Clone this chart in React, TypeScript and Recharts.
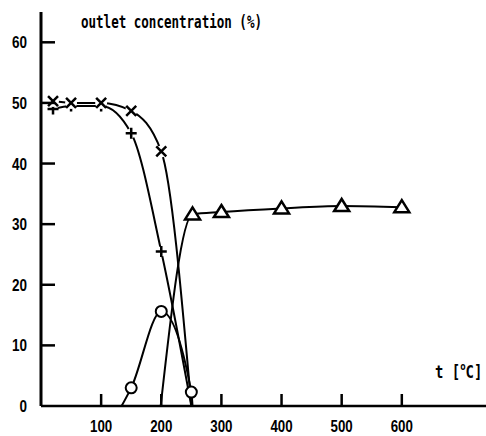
import React from 'react';
import { LineChart, Line, XAxis, YAxis } from 'recharts';

// temperature (°C) and outlet concentration (%) per species
const crossT = [20, 50, 100, 150, 200, 250];
const crossC = [50.3, 50, 50, 48.7, 42, 0];
const plusT = [20, 50, 100, 150, 200, 250];
const plusC = [49, 49.5, 49.5, 45, 25.5, 0];
const circleT = [134, 150, 200, 250, 252];
const circleC = [0, 3, 15.6, 2.3, 0];
const triangleT = [199, 252, 300, 400, 500, 600];
const triangleC = [0, 31.6, 32, 32.6, 33, 32.8];

const xTicks = [100, 200, 300, 400, 500, 600];
const yTicks = [0, 10, 20, 30, 40, 50, 60];

const toRows = (ts: number[], cs: number[]) => ts.map((t, i) => ({ t, c: cs[i] }));

const crossData = toRows(crossT, crossC);
const plusData = toRows(plusT, plusC);
const circleData = toRows(circleT, circleC);
const triangleData = toRows(triangleT, triangleC);

const INK = '#000';
const tickFont = '"Liberation Sans", Arial, sans-serif';
const labelFont = '"DejaVu Sans Mono", monospace';

// anchor points at 0 carry no marker
const CrossDot = (p: any) => {
  if (p.payload.c === 0) return null;
  const { cx, cy } = p;
  const s = 5;
  return (
    <g key={`x-${p.index}`}>
      <circle cx={cx} cy={cy} r={6} fill="#fff" />
      <path d={`M${cx - s},${cy - s}L${cx + s},${cy + s}M${cx + s},${cy - s}L${cx - s},${cy + s}`} stroke={INK} strokeWidth={2.5} />
    </g>
  );
};

const PlusDot = (p: any) => {
  if (p.payload.c === 0) return null;
  const { cx, cy } = p;
  const s = 5.5;
  return (
    <g key={`p-${p.index}`}>
      <circle cx={cx} cy={cy} r={5} fill="#fff" />
      <path d={`M${cx - s},${cy}L${cx + s},${cy}M${cx},${cy - s}L${cx},${cy + s}`} stroke={INK} strokeWidth={2.5} />
    </g>
  );
};

const CircleDot = (p: any) => {
  if (p.payload.c === 0) return null;
  return <circle key={`o-${p.index}`} cx={p.cx} cy={p.cy} r={5.5} fill="#fff" stroke={INK} strokeWidth={2} />;
};

const TriangleDot = (p: any) => {
  if (p.payload.c === 0) return null;
  const { cx, cy } = p;
  return (
    <path
      key={`t-${p.index}`}
      d={`M${cx},${cy - 7}L${cx + 7.5},${cy + 5}L${cx - 7.5},${cy + 5}Z`}
      fill="#fff"
      stroke={INK}
      strokeWidth={2.5}
      strokeLinejoin="miter"
    />
  );
};

const YTick = (props: any) => {
  const { x, y, payload } = props;
  const label = String(payload.value);
  return (
    <g>
      {payload.value > 0 && <line x1={x + 14} x2={x + 28} y1={y} y2={y} stroke={INK} strokeWidth={2.5} />}
      <text
        x={x}
        y={y + 6}
        textAnchor="end"
        fontFamily={tickFont}
        fontWeight={700}
        fontSize={17}
        textLength={label.length * 7.5}
        lengthAdjust="spacingAndGlyphs"
        fill={INK}
      >
        {label}
      </text>
    </g>
  );
};

const XTick = (props: any) => {
  const { x, y, payload } = props;
  const label = String(payload.value);
  return (
    <g>
      <line x1={x} x2={x} y1={y} y2={y - 12} stroke={INK} strokeWidth={2.5} />
      <text
        x={x}
        y={y + 26}
        textAnchor="middle"
        fontFamily={tickFont}
        fontWeight={700}
        fontSize={16}
        textLength={label.length * 7.4}
        lengthAdjust="spacingAndGlyphs"
        fill={INK}
      >
        {label}
      </text>
    </g>
  );
};

export default function App() {
  return (
    <div style={{ position: 'absolute', left: 0, top: 0, width: 486, height: 436, background: '#fff' }}>
      <LineChart width={486} height={436} margin={{ top: 12, right: 0, bottom: 0, left: 0 }}>
        <XAxis
          dataKey="t"
          type="number"
          domain={[0, 740]}
          ticks={xTicks}
          allowDataOverflow
          axisLine={{ stroke: INK, strokeWidth: 2.5 }}
          tickLine={false}
          tickSize={0}
          tickMargin={0}
          tick={<XTick />}
          height={30}
        />
        <YAxis
          dataKey="c"
          type="number"
          domain={[0, 65]}
          ticks={yTicks}
          allowDataOverflow
          axisLine={{ stroke: INK, strokeWidth: 3 }}
          tickLine={false}
          tickSize={0}
          tickMargin={14}
          tick={<YTick />}
          width={41}
        />
        <Line data={circleData} dataKey="c" type="monotone" stroke={INK} strokeWidth={2} dot={<CircleDot />} isAnimationActive={false} />
        <Line data={triangleData} dataKey="c" type="monotone" stroke={INK} strokeWidth={2} dot={<TriangleDot />} isAnimationActive={false} />
        <Line data={plusData} dataKey="c" type="monotone" stroke={INK} strokeWidth={2} dot={<PlusDot />} isAnimationActive={false} />
        <Line data={crossData} dataKey="c" type="monotone" stroke={INK} strokeWidth={2} dot={<CrossDot />} isAnimationActive={false} />
      </LineChart>
      <svg width={486} height={436} style={{ position: 'absolute', left: 0, top: 0, pointerEvents: 'none' }}>
        <text
          x={81}
          y={28}
          fontFamily={labelFont}
          fontWeight={700}
          fontSize={17}
          textLength={181}
          lengthAdjust="spacingAndGlyphs"
          fill={INK}
        >
          outlet concentration (%)
        </text>
        <text transform="translate(435,378) scale(0.82,1)" fontFamily={labelFont} fontWeight={700} fontSize={17} fill={INK}>
          t [<tspan dy={-8} fontSize={11}>o</tspan>
          <tspan dy={8}>C]</tspan>
        </text>
      </svg>
    </div>
  );
}
